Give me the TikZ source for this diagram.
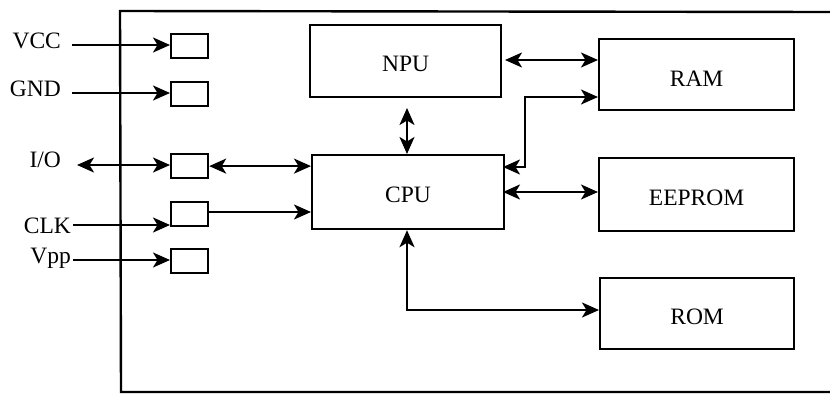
\documentclass[tikz,border=0pt]{standalone}
\usepackage{fontspec}
\setmainfont{Liberation Serif}
\usetikzlibrary{arrows.meta}
\begin{document}
\begin{tikzpicture}[x=1pt,y=-1pt,
  line width=2.2pt,
  txt/.style={font=\fontsize{23.5}{26}\selectfont, inner sep=0pt},
  box/.style={draw, line width=2.2pt, inner sep=0pt, anchor=north west},
  pin/.style={draw, line width=2.2pt, inner sep=0pt, anchor=north west, minimum width=37pt, minimum height=24pt},
  tip/.tip={Stealth[length=17pt,width=15pt,inset=4.5pt]},
  arr/.style={-tip},
  darr/.style={tip-tip},
  lab/.style={txt, anchor=base east}
]
\useasboundingbox (0,0) rectangle (830,394);
\fill[white] (0,0) rectangle (830,394);
% frame (open on the right)
\coordinate (ftr) at (830,12);
\coordinate (ftl) at (120,11);
\coordinate (fbl) at (121,392);
\coordinate (fbr) at (830,392);
\draw[line width=2.4pt] (ftr) -- (ftl) -- (fbl) -- (fbr);

% pins
\node[pin] (pvcc) at (170,33) {};
\node[pin] (pgnd) at (170,81) {};
\node[pin] (pio)  at (170,153) {};
\node[pin] (pclk) at (170,201) {};
\node[pin] (pvpp) at (170,248) {};

% labels
\node[lab] (lvcc) at (62,48) {VCC};
\node[lab] (lgnd) at (62,96) {GND};
\node[lab] (lio)  at (62,167) {I/O};
\node[lab] (lclk) at (72,233) {CLK};
\node[lab] (lvpp) at (72,263) {Vpp};

\coordinate (svcc) at (72,45);
\coordinate (sgnd) at (72,93);
\coordinate (sio)  at (77,165);
\coordinate (sclk) at (73,225);
\coordinate (svpp) at (73,260);

\draw[arr] (svcc) -- (svcc -| pvcc.west);
\draw[arr] (sgnd) -- (sgnd -| pgnd.west);
\draw[darr] (sio) -- (sio -| pio.west);
\draw[arr] (sclk) -- (sclk -| pclk.west);
\draw[arr] (svpp) -- (svpp -| pvpp.west);

% main blocks
\node[box, minimum width=191pt, minimum height=72pt] (npu) at (309,24) {};
\node[box, minimum width=192pt, minimum height=74pt] (cpu) at (311,154) {};
\node[box, minimum width=195pt, minimum height=71pt] (ram) at (598,38) {};
\node[box, minimum width=195pt, minimum height=73pt] (eep) at (598,157) {};
\node[box, minimum width=194pt, minimum height=71pt] (rom) at (599,277) {};

\node[txt] at ([yshift=-3pt]npu.center) {NPU};
\node[txt] at ([yshift=-3pt]cpu.center) {CPU};
\node[txt] at ([yshift=-4pt]ram.center) {RAM};
\node[txt] at ([yshift=-3pt]eep.center) {EEPROM};
\node[txt] at ([yshift=-3pt]rom.center) {ROM};

% pin to CPU
\draw[darr] (pio.east) -- (pio.east -| cpu.west);
\coordinate (cclk) at (207,212);
\draw[arr] (cclk) -- (cclk -| cpu.west);

% NPU <-> CPU
\coordinate (nc) at (407,108);
\draw[darr] (nc) -- (nc |- cpu.north);

% NPU <-> RAM
\coordinate (nr) at (505,60);
\draw[darr] (nr) -- (nr -| ram.west);

% CPU <-> RAM (bent)
\coordinate (cr1) at (503,167);
\coordinate (cr2) at (525,167);
\coordinate (cr3) at (525,97);
\draw[darr] (cr1) -- (cr2) -- (cr3) -- (cr3 -| ram.west);

% CPU <-> EEPROM
\coordinate (ce) at (503,192);
\draw[darr] (ce) -- (ce -| eep.west);

% CPU <-> ROM
\coordinate (cro) at (407,310);
\draw[darr] (cro |- cpu.south) -- (cro) -- (cro -| rom.west);
\end{tikzpicture}
\end{document}
